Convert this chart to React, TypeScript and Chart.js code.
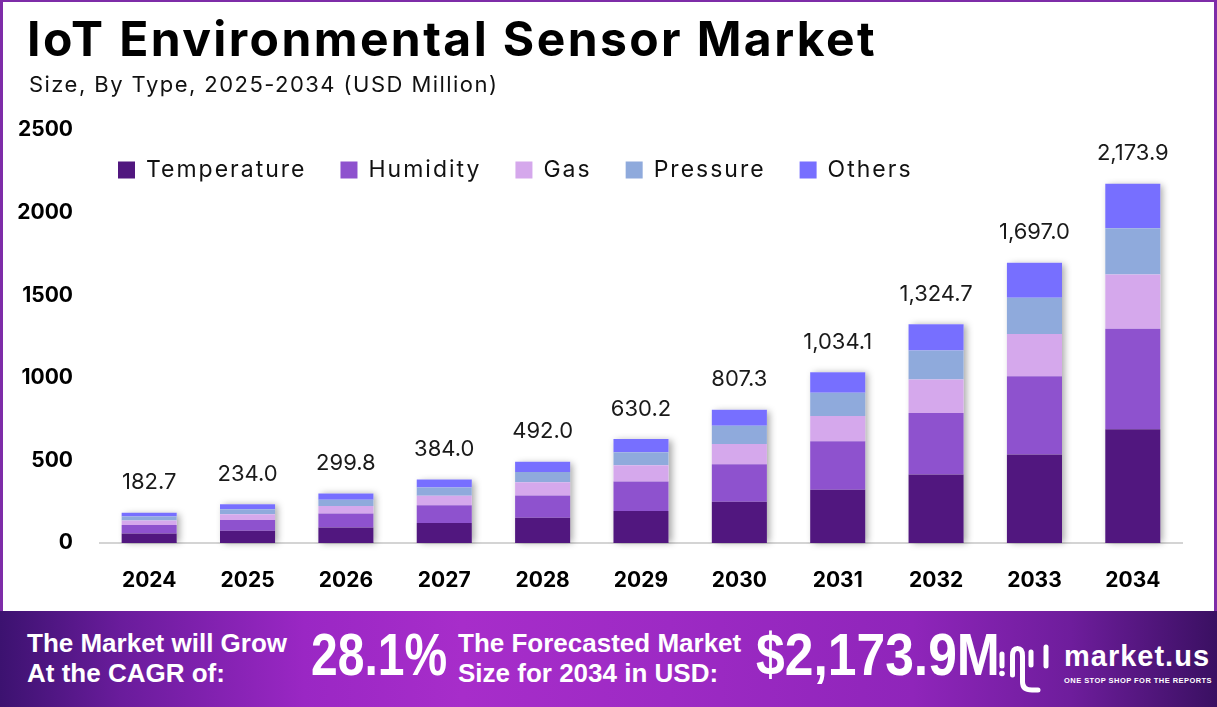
import React, { useEffect, useRef } from "react";
import { Chart, registerables } from "chart.js";

Chart.register(...registerables);

// ---------- data ----------
const years = ["2024", "2025", "2026", "2027", "2028", "2029", "2030", "2031", "2032", "2033", "2034"];
const temperature = [57.5, 73.7, 94.4, 121.0, 153.0, 194.0, 249.0, 322.0, 415.0, 536.0, 688.0];
const humidity = [51.2, 65.5, 83.9, 107.5, 135.0, 178.0, 227.0, 294.0, 372.0, 474.0, 609.0];
const gas = [27.4, 35.1, 45.0, 57.6, 80.0, 98.0, 123.0, 153.0, 202.0, 255.0, 329.0];
const pressure = [23.8, 30.4, 39.0, 49.9, 62.0, 80.0, 110.0, 141.0, 177.0, 219.0, 280.0];
const others = [22.8, 29.3, 37.5, 48.0, 62.0, 80.2, 98.3, 124.1, 158.7, 213.0, 267.9];
const totals = [182.7, 234.0, 299.8, 384.0, 492.0, 630.2, 807.3, 1034.1, 1324.7, 1697.0, 2173.9];
const seriesNames = ["Temperature", "Humidity", "Gas", "Pressure", "Others"];
const seriesValues = [temperature, humidity, gas, pressure, others];
const seriesColors = ["#51177f", "#8e52ce", "#d5a8ec", "#8faadc", "#776fff"];
const yMax = 2500;
const yStep = 500;

const FONT = "Inter, 'Noto Sans', sans-serif";

const fmt = (v: number) =>
  v.toLocaleString("en-US", { minimumFractionDigits: 1, maximumFractionDigits: 1 });

const shadowPlugin = {
  id: "barShadow",
  beforeDatasetsDraw(chart: any) {
    const ctx = chart.ctx;
    const n = chart.data.datasets.length;
    const last = chart.getDatasetMeta(n - 1);
    const yScale = chart.scales.y;
    const bottom = yScale.getPixelForValue(0);
    ctx.save();
    ctx.shadowColor = "rgba(0,0,0,0.35)";
    ctx.shadowBlur = 7;
    ctx.shadowOffsetX = 3;
    ctx.shadowOffsetY = 1;
    ctx.fillStyle = "#ffffff";
    last.data.forEach((el: any) => {
      const w = el.width;
      ctx.fillRect(el.x - w / 2, el.y, w, bottom - el.y - 1);
    });
    ctx.restore();
  },
};

const totalsPlugin = {
  id: "totals",
  afterDatasetsDraw(chart: any) {
    const ctx = chart.ctx;
    const n = chart.data.datasets.length;
    const last = chart.getDatasetMeta(n - 1);
    ctx.save();
    ctx.font = `400 22px ${FONT}`;
    ctx.fillStyle = "#1a1a1a";
    ctx.textAlign = "center";
    ctx.textBaseline = "middle";
    last.data.forEach((el: any, i: number) => {
      ctx.fillText(fmt(totals[i]), el.x, el.y - 30);
    });
    ctx.restore();
  },
};

const legendPlugin = {
  id: "customLegend",
  afterDraw(chart: any) {
    const ctx = chart.ctx;
    ctx.save();
    ctx.font = `400 23px ${FONT}`;
    (ctx as any).letterSpacing = "2px";
    ctx.textBaseline = "middle";
    ctx.textAlign = "left";
    let x = 118;
    const y = 170;
    const box = 17;
    chart.data.datasets.forEach((ds: any) => {
      ctx.fillStyle = ds.backgroundColor;
      ctx.fillRect(x, y - box / 2, box, box);
      ctx.fillStyle = "#111111";
      const tx = x + box + 11;
      ctx.fillText(ds.label, tx, y);
      x = tx + ctx.measureText(ds.label).width + 34;
    });
    ctx.restore();
  },
};

export default function App() {
  const ref = useRef<HTMLCanvasElement>(null);

  useEffect(() => {
    if (!ref.current) return;
    const chart = new Chart(ref.current, {
      type: "bar",
      data: {
        labels: years,
        datasets: seriesNames.map((name, i) => ({
          label: name,
          data: seriesValues[i],
          backgroundColor: seriesColors[i],
          borderWidth: 0,
          barPercentage: 0.56,
          categoryPercentage: 1,
        })),
      },
      options: {
        animation: false,
        responsive: false,
        maintainAspectRatio: false,
        layout: { padding: { top: 130, right: 35, left: 0, bottom: 0 } },
        plugins: {
          legend: { display: false },
          tooltip: { enabled: false },
          title: { display: false },
        },
        scales: {
          x: {
            stacked: true,
            grid: { display: false },
            border: { display: true, color: "#d4d4d4", width: 2 },
            ticks: {
              font: { family: FONT, size: 21, weight: "bold" },
              color: "#000000",
              padding: 17,
            },
            afterFit: (s: any) => {
              s.height = 68;
            },
          },
          y: {
            stacked: true,
            min: 0,
            max: yMax,
            grid: { display: false },
            border: { display: false },
            ticks: {
              stepSize: yStep,
              font: { family: FONT, size: 21, weight: "bold" },
              color: "#000000",
              padding: 19,
              callback: (v: any) => String(v),
            },
            afterFit: (s: any) => {
              s.width = 100;
            },
          },
        },
      } as any,
      plugins: [shadowPlugin, totalsPlugin, legendPlugin],
    });
    return () => chart.destroy();
  }, []);

  const bannerSmall: React.CSSProperties = {
    position: "absolute",
    fontFamily: "'Liberation Sans', Arial, sans-serif",
    fontWeight: 700,
    fontSize: 26,
    lineHeight: "30px",
    color: "#ffffff",
    whiteSpace: "nowrap",
  };
  const bannerBig: React.CSSProperties = {
    position: "absolute",
    fontFamily: "'Liberation Sans', Arial, sans-serif",
    fontWeight: 700,
    fontSize: 60,
    lineHeight: "60px",
    color: "#ffffff",
    whiteSpace: "nowrap",
    transformOrigin: "0 50%",
  };

  return (
    <div
      style={{
        position: "fixed",
        left: 0,
        top: 0,
        width: 1217,
        height: 707,
        background: "#ffffff",
        overflow: "hidden",
      }}
    >
      <div
        style={{
          position: "absolute",
          left: 0,
          top: 0,
          width: 1217,
          height: 614,
          boxSizing: "border-box",
          border: "3px solid #7e2ca8",
          borderTopWidth: 2,
        }}
      />
      <canvas
        ref={ref}
        width={1217}
        height={611}
        style={{ position: "absolute", left: 0, top: 0, width: 1217, height: 611, display: "block" }}
      />
      <div
        style={{
          position: "absolute",
          left: 27,
          top: 15,
          fontFamily: FONT,
          fontWeight: 700,
          fontSize: 48,
          lineHeight: "48px",
          letterSpacing: "2.4px",
          color: "#000000",
          whiteSpace: "nowrap",
        }}
      >
        IoT Environmental Sensor Market
      </div>
      <div
        style={{
          position: "absolute",
          left: 29,
          top: 73,
          fontFamily: FONT,
          fontWeight: 400,
          fontSize: 22,
          lineHeight: "22px",
          letterSpacing: "1.45px",
          color: "#111111",
          whiteSpace: "nowrap",
        }}
      >
        Size, By Type, 2025-2034 (USD Million)
      </div>

      {/* bottom banner */}
      <div
        style={{
          position: "absolute",
          left: 0,
          top: 611,
          width: 1217,
          height: 96,
          background:
            "linear-gradient(90deg, #3c1270 0%, #6a1c9c 10%, #9a27c4 25%, #a72dca 38%, #9d2ac4 55%, #8f25ba 75%, #6e1d9c 88%, #3a1062 100%)",
        }}
      >
        <div style={{ ...bannerSmall, left: 27, top: 17 }}>The Market will Grow</div>
        <div style={{ ...bannerSmall, left: 27, top: 47 }}>At the CAGR of:</div>
        <div style={{ ...bannerBig, left: 311, top: 14, transform: "scaleX(0.8)" }}>28.1%</div>
        <div style={{ ...bannerSmall, left: 458, top: 17 }}>The Forecasted Market</div>
        <div style={{ ...bannerSmall, left: 458, top: 47 }}>Size for 2034 in USD:</div>
        <div style={{ ...bannerBig, left: 756, top: 14, transform: "scaleX(0.86)" }}>$2,173.9M</div>
        <svg
          width={64}
          height={72}
          viewBox="0 0 64 72"
          style={{ position: "absolute", left: 990, top: 19 }}
        >
          <path d="M12 24 L12 36" stroke="#ffffff" strokeWidth={5} strokeLinecap="round" fill="none" />
          <circle cx={12} cy={43.5} r={2.8} fill="#ffffff" />
          <path
            d="M22.5 45 L22.5 26 Q22.5 18.5 27.5 18.5 Q32.5 18.5 32.5 26 L32.5 52 Q32.5 60 42 60 L48 60"
            stroke="#ffffff"
            strokeWidth={5}
            fill="none"
            strokeLinecap="round"
          />
          <path d="M41 22 L41 35" stroke="#ffffff" strokeWidth={5} strokeLinecap="round" fill="none" />
          <path d="M56 17 L56 36" stroke="#ffffff" strokeWidth={5} strokeLinecap="round" fill="none" />
        </svg>
        <div
          style={{
            position: "absolute",
            left: 1064,
            top: 30,
            fontFamily: "'Liberation Sans', Arial, sans-serif",
            fontWeight: 700,
            fontSize: 29,
            lineHeight: "30px",
            letterSpacing: "1px",
            color: "#ffffff",
            whiteSpace: "nowrap",
          }}
        >
          market.us
        </div>
        <div
          style={{
            position: "absolute",
            left: 1064,
            top: 65,
            fontFamily: "'Liberation Sans', Arial, sans-serif",
            fontWeight: 700,
            fontSize: 7.5,
            lineHeight: "9px",
            letterSpacing: "0.45px",
            color: "#ffffff",
            whiteSpace: "nowrap",
          }}
        >
          ONE STOP SHOP FOR THE REPORTS
        </div>
      </div>
    </div>
  );
}
